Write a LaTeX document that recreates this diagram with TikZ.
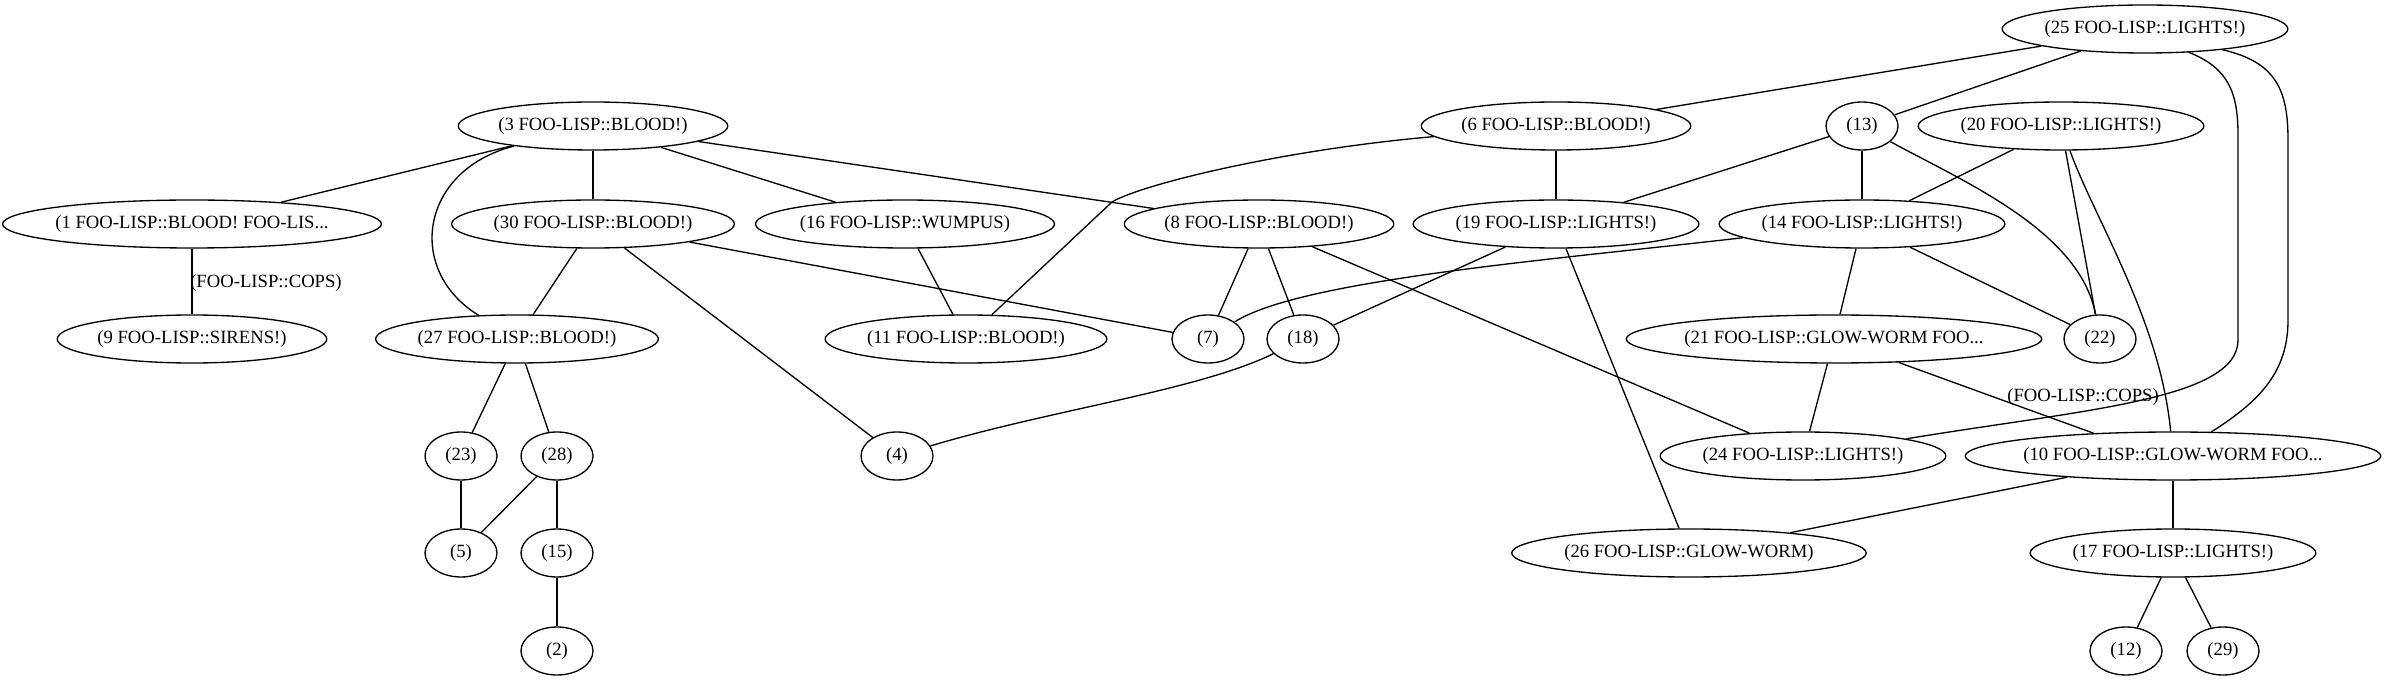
\documentclass[tikz,border=0pt]{standalone}
\usepackage{fontspec}
\setmainfont{Liberation Serif}
\usepackage{tikz}
\usetikzlibrary{shapes.geometric}
\newcommand{\tdots}{...}

\begin{document}
\begin{tikzpicture}[x=0.75pt, y=-0.75pt, line width=1pt,
  every node/.style={font=\fontsize{14}{17}\selectfont},
  blob/.style={ellipse, draw, inner sep=0.5pt, minimum width=54pt,
    minimum height=36pt}]
  \useasboundingbox (0,0) rectangle (2385,680);
  % the nodes, rank by rank
  \foreach \x/\y/\n/\l in {2145/29/n25/(25 FOO-LISP::LIGHTS!),
    593/126/n3/(3 FOO-LISP::BLOOD!), 1556/126/n6/(6 FOO-LISP::BLOOD!),
    1862/126/n13/(13), 2061/126/n20/(20 FOO-LISP::LIGHTS!),
    593/224/n30/(30 FOO-LISP::BLOOD!),
    905/224/n16/(16 FOO-LISP::WUMPUS), 1259/224/n8/(8 FOO-LISP::BLOOD!),
    1556/224/n19/(19 FOO-LISP::LIGHTS!), 1862/224/n14/(14 FOO-LISP::LIGHTS!),
    192/339/n9/(9 FOO-LISP::SIRENS!), 517/339/n27/(27 FOO-LISP::BLOOD!),
    966/339/n11/(11 FOO-LISP::BLOOD!), 1208/339/n7/(7), 1303/339/n18/(18),
    2100/339/n22/(22),
    461/456/n23/(23), 557/456/n28/(28), 897/456/n4/(4),
    1803/456/n24/(24 FOO-LISP::LIGHTS!),
    461/553/n5/(5), 557/553/n15/(15), 1689/553/n26/(26 FOO-LISP::GLOW-WORM),
    2173/553/n17/(17 FOO-LISP::LIGHTS!),
    557/651/n2/(2), 2126/651/n12/(12), 2223/651/n29/(29)}{
    \node[blob] (\n) at (\x,\y) {\l};}
  % the cut-off names
  \foreach \x/\y/\n/\l in {192/224/n1/(1 FOO-LISP::BLOOD! FOO-LIS\tdots,
    1834/339/n21/(21 FOO-LISP::GLOW-WORM FOO\tdots,
    2173/456/n10/(10 FOO-LISP::GLOW-WORM FOO\tdots}{
    \node[blob, inner xsep=-2pt] (\n) at (\x,\y) {\l};}
  % straight links
  \foreach \a/\b in {n25/n6, n25/n13, n3/n1, n3/n30, n3/n16, n3/n8,
    n6/n19, n13/n19, n13/n14, n20/n14, n20/n22, n1/n9, n30/n27, n30/n7,
    n30/n4, n16/n11, n8/n7, n8/n18, n8/n24, n19/n18, n19/n26, n14/n21,
    n14/n22, n27/n23, n27/n28, n21/n24, n10/n26, n10/n17,
    n17/n12, n17/n29, n23/n5, n28/n5, n28/n15, n15/n2}{
    \draw (\a) -- (\b);}
  \draw (n21) -- (n10.164);
  % bent links
  \draw (n3) .. controls (420,170) and (405,270) .. (n27);
  \draw (n6) .. controls (1280,150) and (1140,185) .. (1112,202) -- (n11);
  \draw (n13) .. controls (1960,180) and (2080,230) .. (n22);
  \draw (n14) .. controls (1550,260) and (1300,280) .. (n7);
  \draw (n18) .. controls (1200,390) and (1050,410) .. (n4);
  \draw (n20) .. controls (2095,220) and (2160,320) .. (n10);
  \draw (n25.-28) .. controls (2228,68) and (2238,92) .. (2238,135)
    -- (2238,340) .. controls (2238,400) and (2080,410) .. (n24);
  \draw (n25.-15) .. controls (2276,62) and (2288,90) .. (2288,140)
    -- (2288,320) .. controls (2288,370) and (2262,400) .. (n10);
  % link labels
  \node (cops1) at (266,283) {(FOO-LISP::COPS)};
  \node (cops2) at (2083,397) {(FOO-LISP::COPS)};
\end{tikzpicture}
\end{document}
